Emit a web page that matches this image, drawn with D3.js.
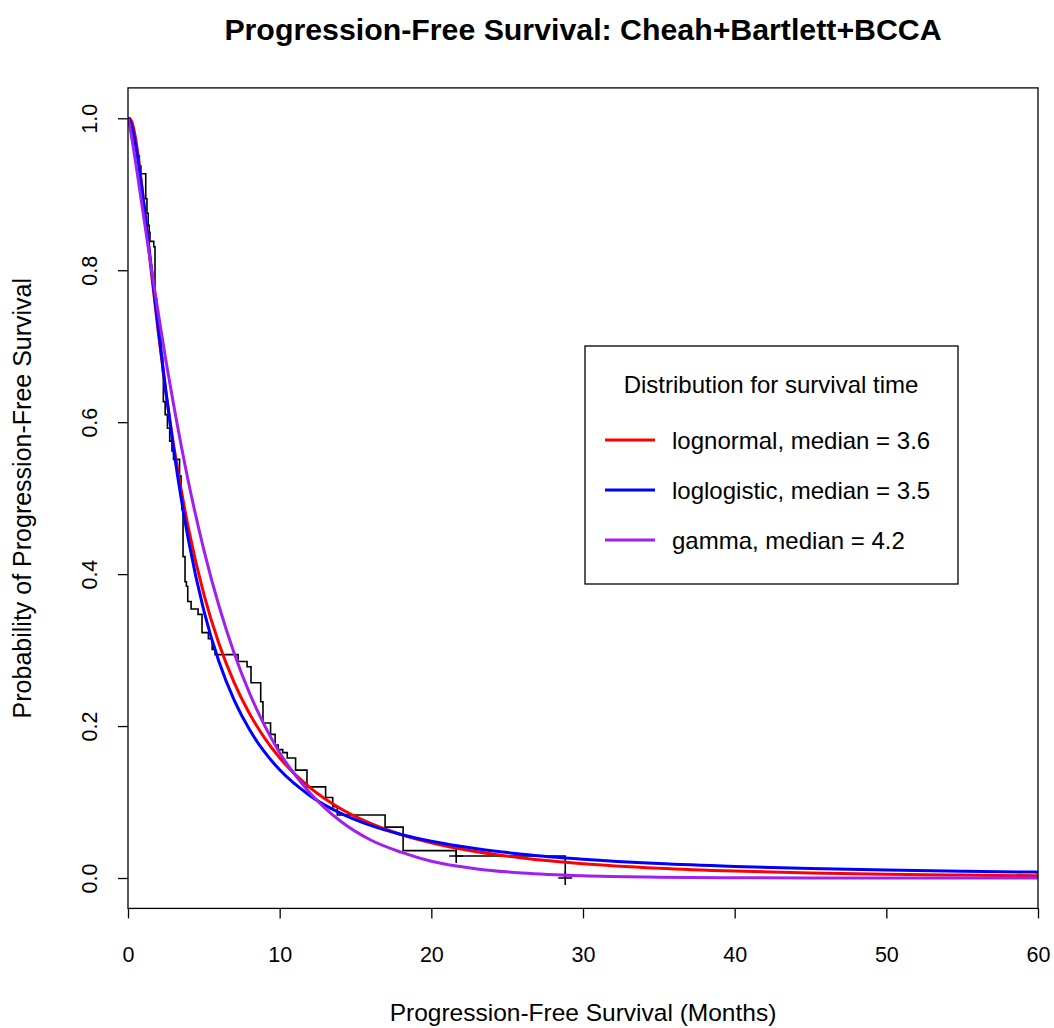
<!DOCTYPE html>
<html>
<head>
<meta charset="utf-8">
<script src="https://cdn.jsdelivr.net/npm/d3@7"></script>
<style>
  html, body { margin: 0; padding: 0; background: #ffffff; }
  svg { display: block; font-family: "Liberation Sans", Arial, Helvetica, sans-serif; }
</style>
</head>
<body>
<svg id="chart" width="1054" height="1028"></svg>
<script>
// ---------------- data ----------------
const chartTitle = "Progression-Free Survival: Cheah+Bartlett+BCCA";
const xTitle = "Progression-Free Survival (Months)";
const yTitle = "Probability of Progression-Free Survival";

const xTicks = [0, 10, 20, 30, 40, 50, 60];
const yTicks = [0.0, 0.2, 0.4, 0.6, 0.8, 1.0];
const yTickLabels = ["0.0", "0.2", "0.4", "0.6", "0.8", "1.0"];

// Kaplan-Meier step curve: time of each drop and survival after it
const kmTimes = [0, 0.15, 0.3, 0.45, 0.6, 0.75, 0.85, 1.17, 1.25, 1.33, 1.40, 1.45, 1.70, 1.78,
  1.9, 2.0, 2.1, 2.2, 2.28, 2.33, 2.45, 2.6, 2.75, 2.9, 3.0, 3.4, 3.5, 3.55, 3.63, 3.76, 3.85,
  3.94, 4.16, 4.62, 4.88, 5.3, 5.55, 5.74, 7.26, 7.85, 8.11, 8.75, 8.9, 9.4, 9.7, 9.9, 10.2,
  10.5, 11.05, 11.8, 13.03, 13.5, 13.8, 16.95, 18.14, 21.64, 28.83];
const kmSurv = [1.0, 0.993, 0.979, 0.965, 0.951, 0.937, 0.927, 0.894, 0.875, 0.859, 0.850, 0.838, 0.831, 0.762,
  0.745, 0.727, 0.706, 0.685, 0.665, 0.627, 0.610, 0.592, 0.575, 0.562, 0.551, 0.529, 0.505, 0.485, 0.423, 0.390, 0.384,
  0.364, 0.354, 0.347, 0.323, 0.315, 0.301, 0.294, 0.285, 0.278, 0.257, 0.232, 0.204, 0.189, 0.175, 0.169, 0.165,
  0.158, 0.142, 0.120, 0.106, 0.094, 0.083, 0.067, 0.036, 0.029, 0.0];
const censorTimes = [21.64, 28.83];
const censorSurv = [0.029, 0.0];

// fitted parametric survival curves, values read along the time grid
const fitTimes = [0, 0.1, 0.25, 0.5, 0.75, 1, 1.5, 2, 2.5, 3, 4, 5, 6, 7, 8, 9, 10, 12, 14, 16, 18, 20,
  23, 26, 30, 35, 40, 45, 50, 55, 60];
const lognormalSurv = [1.0, 0.9998, 0.9955, 0.9735, 0.938, 0.8954, 0.8046, 0.7178, 0.6396, 0.5710, 0.4589,
  0.3737, 0.3083, 0.2572, 0.2168, 0.1845, 0.1582, 0.1189, 0.0915, 0.0718, 0.0573, 0.0464,
  0.0345, 0.0263, 0.0188, 0.0129, 0.0091, 0.0066, 0.0049, 0.0038, 0.0029];
const loglogisticSurv = [1.0, 0.9977, 0.9891, 0.9653, 0.933, 0.8949, 0.8098, 0.7225, 0.6400, 0.5655, 0.4432,
  0.3521, 0.2846, 0.2341, 0.1957, 0.1659, 0.1424, 0.1084, 0.0854, 0.0692, 0.0573, 0.0483,
  0.0384, 0.0314, 0.0248, 0.0191, 0.0153, 0.0125, 0.0105, 0.0089, 0.0077];
const gammaSurv = [1.0, 0.9913, 0.974, 0.9425, 0.909, 0.875, 0.808, 0.743, 0.681, 0.624, 0.520,
  0.432, 0.358, 0.296, 0.244, 0.201, 0.165, 0.112, 0.075, 0.050, 0.034, 0.022,
  0.012, 0.0066, 0.0029, 0.0011, 0.0004, 0.00013, 0.00005, 0.00002, 0.00001];

const legendTitle = "Distribution for survival time";
const seriesNames = ["lognormal, median = 3.6", "loglogistic, median = 3.5", "gamma, median = 4.2"];
const seriesColors = ["#FF0000", "#0000FF", "#A020F0"];

// ---------------- drawing ----------------
const svg = d3.select("#chart");
const plot = { left: 128, right: 1038, top: 87.9, bottom: 908.4 };

const x = d3.scaleLinear().domain([0, 60]).range([plot.left, plot.right]);
const y = d3.scaleLinear().domain([-0.04, 1.04]).range([plot.bottom, plot.top]);

svg.append("rect").attr("width", 1054).attr("height", 1028).attr("fill", "#ffffff");

svg.append("defs").append("clipPath").attr("id", "plotclip")
  .append("rect")
  .attr("x", plot.left).attr("y", plot.top)
  .attr("width", plot.right - plot.left).attr("height", plot.bottom - plot.top);

const g = svg.append("g").attr("clip-path", "url(#plotclip)");

// Kaplan-Meier step line
const kmData = kmTimes.map((t, i) => ({ t: t, s: kmSurv[i] }));
g.append("path")
  .datum(kmData)
  .attr("fill", "none")
  .attr("stroke", "#000000")
  .attr("stroke-width", 1.6)
  .attr("d", d3.line().x(d => x(d.t)).y(d => y(d.s)).curve(d3.curveStepAfter));

// censor marks (+)
const censorData = censorTimes.map((t, i) => ({ t: t, s: censorSurv[i] }));
g.selectAll("path.censor")
  .data(censorData)
  .enter().append("path")
  .attr("class", "censor")
  .attr("fill", "none")
  .attr("stroke", "#000000")
  .attr("stroke-width", 1.6)
  .attr("d", d => {
    const cx = x(d.t), cy = y(d.s), r = 7;
    return `M${cx - r},${cy}H${cx + r}M${cx},${cy - r}V${cy + r}`;
  });

// fitted curves
const fits = [lognormalSurv, loglogisticSurv, gammaSurv];
const fitLine = d3.line().x(d => x(d.t)).y(d => y(d.s)).curve(d3.curveMonotoneX);
fits.forEach((vals, k) => {
  const data = fitTimes.map((t, i) => ({ t: t, s: vals[i] }));
  g.append("path")
    .datum(data)
    .attr("fill", "none")
    .attr("stroke", seriesColors[k])
    .attr("stroke-width", 3)
    .attr("stroke-linejoin", "round")
    .attr("d", fitLine);
});

// box
svg.append("rect")
  .attr("x", plot.left).attr("y", plot.top)
  .attr("width", plot.right - plot.left).attr("height", plot.bottom - plot.top)
  .attr("fill", "none").attr("stroke", "#000000").attr("stroke-width", 1.3);

// x axis
const xAxis = svg.append("g")
  .attr("transform", `translate(0,${plot.bottom})`)
  .call(d3.axisBottom(x).tickValues(xTicks).tickFormat(d3.format("d")).tickSize(10).tickSizeOuter(0));
xAxis.select(".domain").remove();
xAxis.selectAll(".tick line").attr("stroke", "#000000").attr("stroke-width", 1.3);
xAxis.selectAll(".tick text")
  .attr("y", 54).attr("dy", null)
  .attr("fill", "#000000")
  .style("font-size", "21.5px")
  .style("font-family", "'Liberation Sans', Arial, sans-serif");

// y axis
const yAxis = svg.append("g")
  .attr("transform", `translate(${plot.left},0)`)
  .call(d3.axisLeft(y).tickValues(yTicks).tickFormat((d, i) => yTickLabels[i]).tickSize(10).tickSizeOuter(0));
yAxis.select(".domain").remove();
yAxis.selectAll(".tick line").attr("stroke", "#000000").attr("stroke-width", 1.3);
yAxis.selectAll(".tick text")
  .attr("x", null).attr("dy", null)
  .attr("text-anchor", "middle")
  .attr("transform", "translate(-31,0) rotate(-90)")
  .attr("fill", "#000000")
  .style("font-size", "21.5px")
  .style("font-family", "'Liberation Sans', Arial, sans-serif");

// titles
svg.append("text")
  .attr("x", (plot.left + plot.right) / 2).attr("y", 40)
  .attr("text-anchor", "middle")
  .style("font-size", "30.3px").style("font-weight", "bold")
  .text(chartTitle);

svg.append("text")
  .attr("x", (plot.left + plot.right) / 2).attr("y", 1021)
  .attr("text-anchor", "middle")
  .style("font-size", "24.5px")
  .text(xTitle);

svg.append("text")
  .attr("transform", `translate(31,${(plot.top + plot.bottom) / 2}) rotate(-90)`)
  .attr("text-anchor", "middle")
  .style("font-size", "25px")
  .text(yTitle);

// legend
const legend = svg.append("g");
legend.append("rect")
  .attr("x", 585).attr("y", 346).attr("width", 373).attr("height", 238)
  .attr("fill", "#ffffff").attr("stroke", "#000000").attr("stroke-width", 1.3);
legend.append("text")
  .attr("x", 771).attr("y", 393)
  .attr("text-anchor", "middle")
  .style("font-size", "24px")
  .text(legendTitle);
seriesNames.forEach((name, i) => {
  const cy = 440 + i * 50;
  legend.append("line")
    .attr("x1", 605).attr("x2", 655).attr("y1", cy).attr("y2", cy)
    .attr("stroke", seriesColors[i]).attr("stroke-width", 3);
  legend.append("text")
    .attr("x", 672).attr("y", cy + 9)
    .style("font-size", "24px")
    .text(name);
});
</script>
</body>
</html>
